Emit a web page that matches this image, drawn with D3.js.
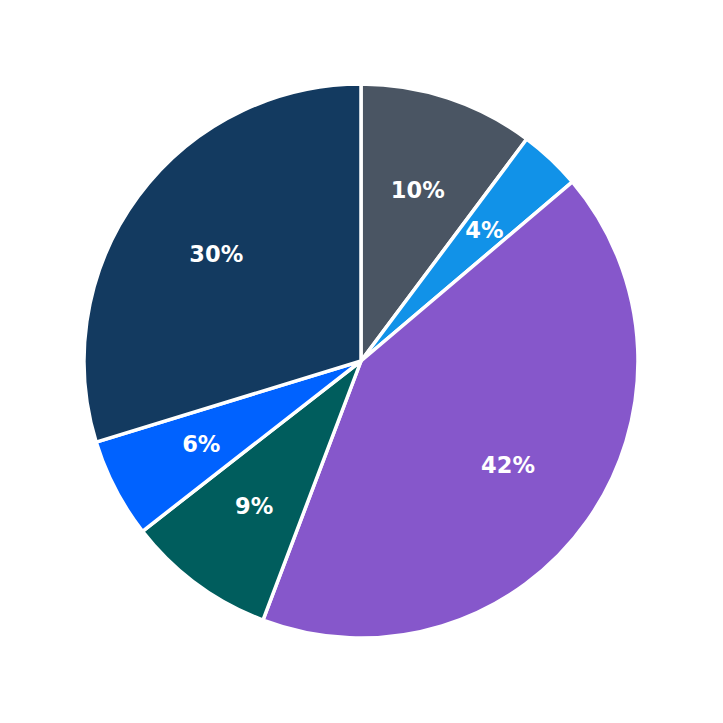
<!DOCTYPE html>
<html lang="en">
<head>
  <meta charset="UTF-8">
  <title>Pie Chart</title>
  <script src="https://d3js.org/d3.v7.min.js"></script>
  <style>
    body { margin: 0; background: #fff; }
    .label {
      font-family: "DejaVu Sans", sans-serif;
      font-weight: bold;
      font-size: 22.5px;
      fill: #fff;
    }
  </style>
</head>
<body>
  <svg width="723" height="723"></svg>
  <script>
    const categories = ["A", "B", "C", "D", "E", "F"];
    const values = [10.2, 3.6, 41.9, 8.7, 5.8, 29.7];
    const labels = ["10%", "4%", "42%", "9%", "6%", "30%"];
    const colors = ["#4a5563", "#1192e8", "#8657cb", "#005d5d", "#0062ff", "#133a60"];

    const svg = d3.select("svg");
    const cx = 361, cy = 361, radius = 277;

    const data = categories.map((c, i) => ({ cat: c, value: values[i], label: labels[i], color: colors[i] }));

    const pie = d3.pie().value(d => d.value).sort(null);
    const arc = d3.arc().innerRadius(0).outerRadius(radius);
    const labelArc = d3.arc().innerRadius(180).outerRadius(180);

    const g = svg.append("g").attr("transform", `translate(${cx},${cy})`);

    const arcs = pie(data);

    g.selectAll("path")
      .data(arcs)
      .join("path")
      .attr("d", arc)
      .attr("fill", d => d.data.color)
      .attr("stroke", "#fff")
      .attr("stroke-width", 3.5)
      .attr("stroke-linejoin", "round");

    g.selectAll("text")
      .data(arcs)
      .join("text")
      .attr("class", "label")
      .attr("transform", d => `translate(${labelArc.centroid(d)})`)
      .attr("text-anchor", "middle")
      .attr("dy", "0.36em")
      .text(d => d.data.label);
  </script>
</body>
</html>
